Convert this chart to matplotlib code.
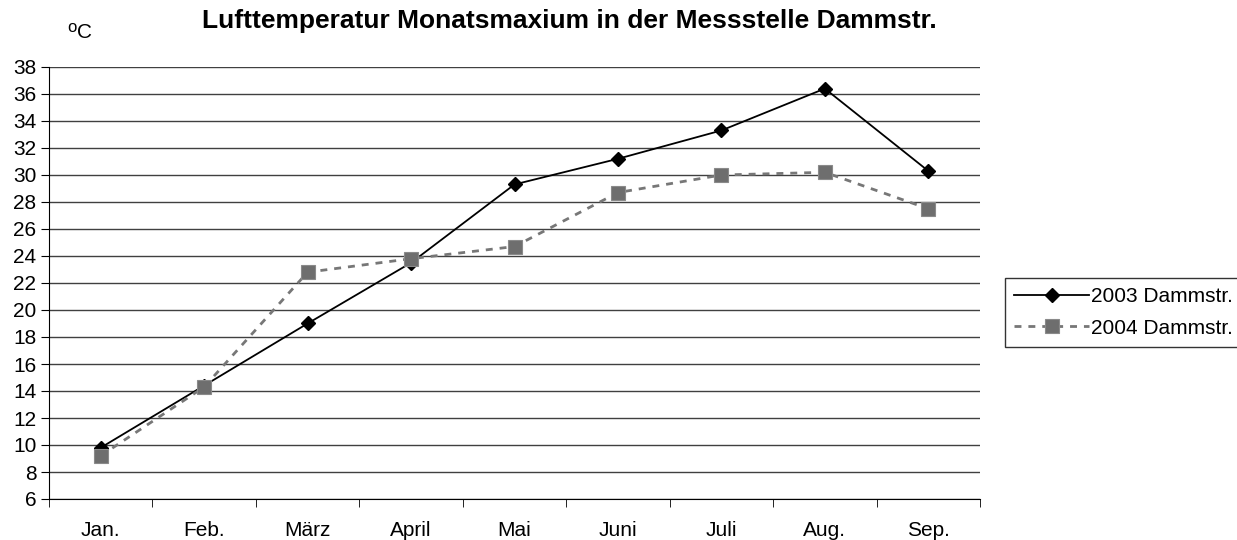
import matplotlib
matplotlib.use("Agg")
import matplotlib.pyplot as plt
import numpy as np

plt.rcParams['font.family'] = ['Liberation Sans', 'DejaVu Sans']

# data
months = ['Jan.', 'Feb.', 'März', 'April', 'Mai', 'Juni', 'Juli', 'Aug.', 'Sep.']
t2003 = [9.8, 14.4, 19.0, 23.5, 29.3, 31.2, 33.3, 36.4, 30.3]
t2004 = [9.2, 14.3, 22.8, 23.8, 24.7, 28.7, 30.0, 30.2, 27.5]
yticks = list(range(6, 39, 2))

fig = plt.figure(figsize=(12.37, 5.40), dpi=100)
ax = fig.add_axes([49 / 1237, 1 - 499 / 540, (980 - 49) / 1237, (499 - 67) / 540])

x = np.arange(len(months))
l1, = ax.plot(x, t2003, color='black', lw=1.3, marker='D', markersize=7,
              markerfacecolor='black', markeredgecolor='black', label='2003 Dammstr.')
l2, = ax.plot(x, t2004, color='#777777', lw=2, linestyle=(0, (2.5, 2.5)), marker='s',
              markersize=10, markerfacecolor='#6e6e6e', markeredgecolor='#8a8a8a',
              markeredgewidth=0.8, label='2004 Dammstr.')

ax.set_xlim(-0.5, len(months) - 0.5)
ax.set_ylim(6, 38)
ax.set_yticks(yticks)
ax.set_yticklabels([str(v) for v in yticks], fontsize=15)
ax.yaxis.grid(True, color='#404040', lw=1)
ax.set_axisbelow(True)

ax.set_xticks(x)
ax.set_xticklabels(months, fontsize=15)
ax.set_xticks(np.arange(-0.5, len(months), 1), minor=True)
ax.tick_params(axis='x', which='major', length=0, pad=16)
ax.tick_params(axis='x', which='minor', length=6, direction='out', color='black')
ax.tick_params(axis='y', length=6, direction='out', pad=3)

for s in ['top', 'right']:
    ax.spines[s].set_visible(False)
ax.spines['left'].set_color('black')
ax.spines['bottom'].set_color('black')

fig.text(569 / 1237, 1 - 21 / 540, 'Lufttemperatur Monatsmaxium in der Messstelle Dammstr.',
         ha='center', va='center', fontsize=19, fontweight='bold')
fig.text(72 / 1237, 1 - 27 / 540, 'o', ha='center', va='center', fontsize=12)
fig.text(77 / 1237, 1 - 32 / 540, 'C', ha='left', va='center', fontsize=15)

leg = fig.legend(handles=[l1, l2], loc='lower left',
                 bbox_to_anchor=(1005 / 1237, 1 - 347 / 540),
                 fontsize=15, frameon=True, fancybox=False, handlelength=3.6,
                 borderpad=0.45, labelspacing=0.6, handletextpad=0.1, borderaxespad=0)
leg.get_frame().set_edgecolor('black')
leg.get_frame().set_linewidth(1)

fig.savefig('out.png', dpi=100)
